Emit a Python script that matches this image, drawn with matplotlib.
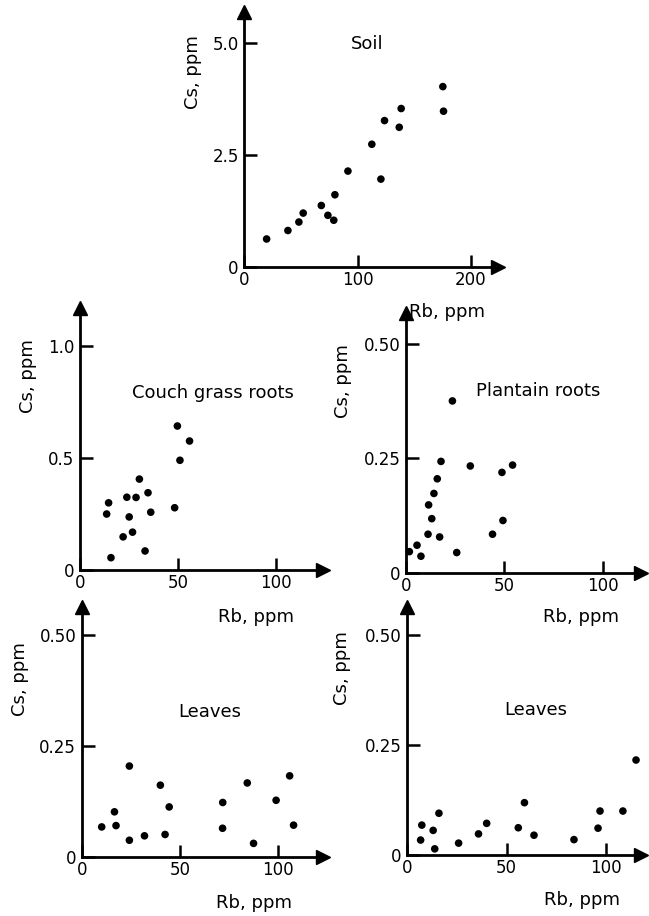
import matplotlib
matplotlib.use('Agg')
import matplotlib.pyplot as plt

# ---------------- data ----------------
soil_rb = [19.7, 38.5, 48.2, 52, 68, 73.8, 79, 80, 91.5, 112.6, 120.6, 123.8, 136.8, 138.5, 175.3, 175.9]
soil_cs = [0.62, 0.81, 1.0, 1.2, 1.37, 1.15, 1.04, 1.61, 2.14, 2.74, 1.96, 3.27, 3.12, 3.54, 4.03, 3.48]

couch_rb = [13.6, 14.6, 15.8, 22, 23.9, 25.1, 26.8, 28.6, 30.3, 33.2, 34.7, 36.1, 48.3, 49.7, 51, 55.9]
couch_cs = [0.25, 0.30, 0.055, 0.148, 0.325, 0.237, 0.169, 0.324, 0.406, 0.085, 0.345, 0.258, 0.278, 0.643, 0.49, 0.576]

plantain_rb = [1.7, 5.6, 7.6, 11.2, 11.5, 13.1, 14.2, 15.9, 17.1, 17.8, 23.6, 25.8, 32.7, 44, 49.3, 48.8, 54.2]
plantain_cs = [0.046, 0.060, 0.036, 0.084, 0.148, 0.118, 0.173, 0.205, 0.078, 0.243, 0.375, 0.044, 0.233, 0.084, 0.114, 0.219, 0.235]

leaves1_rb = [10.2, 16.7, 17.5, 24.3, 24.3, 32, 40.1, 42.5, 44.6, 71.9, 71.8, 84.4, 87.6, 99.1, 106, 108]
leaves1_cs = [0.067, 0.101, 0.070, 0.204, 0.037, 0.047, 0.161, 0.050, 0.112, 0.122, 0.064, 0.166, 0.030, 0.127, 0.182, 0.071]

leaves2_rb = [6.7, 7.3, 13, 13.8, 15.9, 25.8, 35.8, 39.9, 55.8, 58.9, 63.7, 83.8, 95.9, 96.9, 108.4, 115]
leaves2_cs = [0.034, 0.068, 0.056, 0.014, 0.095, 0.027, 0.048, 0.072, 0.062, 0.119, 0.045, 0.035, 0.061, 0.100, 0.100, 0.216]

soil_xticks = [0, 100, 200]
soil_yticks = [0, 2.5, 5.0]
soil_yticklabels = ['0', '2.5', '5.0']
roots_xticks = [0, 50, 100]
couch_yticks = [0, 0.5, 1.0]
couch_yticklabels = ['0', '0.5', '1.0']
small_yticks = [0, 0.25, 0.50]
small_yticklabels = ['0', '0.25', '0.50']

titles = ['Soil', 'Couch grass roots', 'Plantain roots', 'Leaves', 'Leaves']
xlabel = 'Rb, ppm'
ylabel = 'Cs, ppm'

# ---------------- figure ----------------
W, H = 649, 916
fig = plt.figure(figsize=(W / 100, H / 100), dpi=100)
plt.rcParams['font.family'] = ['DejaVu Sans']

def fx(px):
    return px / W

def fy(py):
    return 1 - py / H

def make_panel(ox, oy, ex, ty, xmax, ymax, xs, ys, xticks, yticks, yticklabels,
               title, title_xy, xlab_xy, ylab_xy):
    ax = fig.add_axes([fx(ox), fy(oy), (ex - ox) / W, (oy - ty) / H])
    ax.set_xlim(0, xmax)
    ax.set_ylim(0, ymax)
    ax.scatter(xs, ys, s=30, color='black', edgecolors='none', zorder=3, clip_on=False)
    for s in ['top', 'right']:
        ax.spines[s].set_visible(False)
    for s in ['left', 'bottom']:
        ax.spines[s].set_linewidth(2.0)
    ax.set_xticks(xticks)
    ax.set_xticklabels([str(t) for t in xticks])
    ax.set_yticks(yticks)
    ax.set_yticklabels(yticklabels)
    ax.tick_params(axis='x', direction='in', length=9, width=1.8, labelsize=12, pad=3)
    ax.tick_params(axis='y', direction='in', length=9, width=1.8, labelsize=12, pad=4)
    ax.plot(1, 0, '>k', markersize=10, transform=ax.get_yaxis_transform(), clip_on=False)
    ax.plot(0, 1, '^k', markersize=10, transform=ax.get_xaxis_transform(), clip_on=False)
    ax.patch.set_alpha(0)
    fig.text(fx(title_xy[0]), fy(title_xy[1]), title, ha='center', va='center', fontsize=13)
    fig.text(fx(xlab_xy[0]), fy(xlab_xy[1]), xlabel, ha='center', va='center', fontsize=13)
    fig.text(fx(ylab_xy[0]), fy(ylab_xy[1]), ylabel, ha='center', va='center', fontsize=13,
             rotation=90)
    return ax

# Soil
make_panel(244.3, 266.7, 498, 12, 224, 5.7, soil_rb, soil_cs, soil_xticks, soil_yticks,
           soil_yticklabels, titles[0], (367, 44), (447, 312), (193, 72))
# Couch grass roots
make_panel(80, 570, 323, 308, 124, 1.17, couch_rb, couch_cs, roots_xticks, couch_yticks,
           couch_yticklabels, titles[1], (213, 393), (256, 617), (28, 376))
# Plantain roots
make_panel(406, 572.7, 641, 313, 119.5, 0.567, plantain_rb, plantain_cs, roots_xticks,
           small_yticks, small_yticklabels, titles[2], (538, 391), (581, 617), (343, 381))
# Leaves (left)
make_panel(81.7, 856.7, 323, 607, 123, 0.562, leaves1_rb, leaves1_cs, roots_xticks,
           small_yticks, small_yticklabels, titles[3], (210, 712), (254, 903), (20, 679))
# Leaves (right)
make_panel(407.3, 855, 641, 607, 117.5, 0.564, leaves2_rb, leaves2_cs, roots_xticks,
           small_yticks, small_yticklabels, titles[4], (536, 710), (582, 900), (342, 668))

fig.savefig('out.png', dpi=100)
